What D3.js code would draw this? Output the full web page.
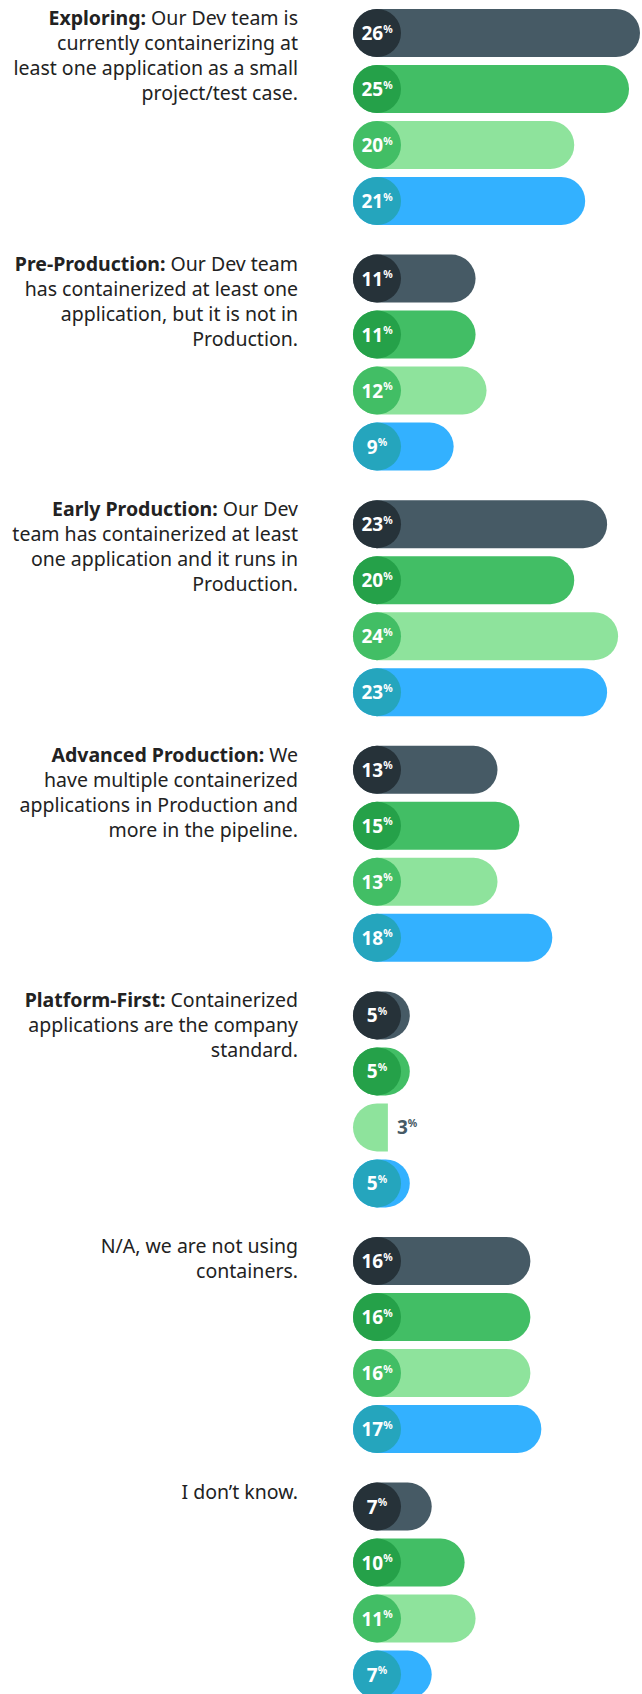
<!DOCTYPE html>
<html>
<head>
<meta charset="utf-8">
<script src="https://cdn.jsdelivr.net/npm/d3@7"></script>
<style>
  html, body { margin: 0; padding: 0; background: #fff; }
  svg { display: block; }
</style>
</head>
<body>
<svg id="chart"></svg>
<script>
// Container adoption stages, 4 series per stage (values in %)
const categories = ['Exploring', 'Pre-Production', 'Early Production', 'Advanced Production',
  'Platform-First', 'N/A', 'I don’t know'];

const labelBold = ['Exploring:', 'Pre-Production:', 'Early Production:', 'Advanced Production:',
  'Platform-First:', '', ''];

const labelLines = [
  [' Our Dev team is', 'currently containerizing at', 'least one application as a small', 'project/test case.'],
  [' Our Dev team', 'has containerized at least one', 'application, but it is not in', 'Production.'],
  [' Our Dev', 'team has containerized at least', 'one application and it runs in', 'Production.'],
  [' We', 'have multiple containerized', 'applications in Production and', 'more in the pipeline.'],
  [' Containerized', 'applications are the company', 'standard.'],
  ['N/A, we are not using', 'containers.'],
  ['I don’t know.']
];

const series = ['s1', 's2', 's3', 's4'];
const s1 = [26, 11, 23, 13, 5, 16, 7];
const s2 = [25, 11, 20, 15, 5, 16, 10];
const s3 = [20, 12, 24, 13, 3, 16, 11];
const s4 = [21, 9, 23, 18, 5, 17, 7];

const barColors = ['#465a65', '#42be65', '#8ee39c', '#33b1ff'];
const dotColors = ['#263239', '#25a149', '#42be65', '#25a5bd'];

const W = 642, H = 1694;
const FONT = '"Noto Sans", "Open Sans", sans-serif';
const barLeft = 353, barH = 48, r = barH / 2;
const textRight = 298;

const svg = d3.select('#chart').attr('width', W).attr('height', H)
  .style('font-family', FONT);

const yGroup = d3.scaleBand().domain(categories).range([9, 9 + 7 * 245.6]);
const yBar = d3.scaleBand().domain(series).range([0, 216]).paddingInner(8 / 56).paddingOuter(0);
const x = d3.scaleLinear().domain([0, 26]).range([2, 287]);

const rows = [];
categories.forEach((c, i) => {
  [s1, s2, s3, s4].forEach((arr, j) => {
    rows.push({ cat: c, ser: series[j], si: j, v: arr[i] });
  });
});

// category labels
const labels = svg.append('g').selectAll('text').data(categories).enter()
  .append('text')
  .attr('text-anchor', 'end')
  .attr('font-size', 19.5)
  .attr('fill', '#222');

labels.each(function (c, i) {
  const t = d3.select(this);
  const y0 = yGroup(c) + 16;
  labelLines[i].forEach((line, k) => {
    if (k === 0 && labelBold[i]) {
      t.append('tspan').attr('x', textRight).attr('y', y0)
        .attr('font-weight', 700).text(labelBold[i]);
      t.append('tspan').text(line);
    } else {
      t.append('tspan').attr('x', textRight).attr('y', y0 + k * 25).text(line);
    }
  });
});

// bars
const barG = svg.append('g').selectAll('g').data(rows).enter()
  .append('g')
  .attr('transform', d => `translate(${barLeft},${yGroup(d.cat) + yBar(d.ser)})`);

barG.append('path')
  .attr('fill', d => barColors[d.si])
  .attr('d', d => {
    const w = x(d.v);
    if (w >= barH) {
      return `M${r},0 H${w - r} A${r},${r} 0 0 1 ${w - r},${barH} H${r} A${r},${r} 0 0 1 ${r},0 Z`;
    }
    return `M${w},0 H${r} A${r},${r} 0 0 0 ${r},${barH} H${w} Z`;
  });

const inside = barG.filter(d => x(d.v) >= barH);
const outside = barG.filter(d => x(d.v) < barH);

inside.append('circle')
  .attr('cx', r).attr('cy', r).attr('r', r)
  .attr('fill', d => dotColors[d.si]);

const inLabel = inside.append('text')
  .attr('x', r).attr('y', r + 7)
  .attr('text-anchor', 'middle')
  .attr('fill', '#fff')
  .attr('font-weight', 700);
inLabel.append('tspan').attr('font-size', 19).text(d => d.v);
inLabel.append('tspan').attr('font-size', 10.5).attr('dy', -7.5).text('%');

const outLabel = outside.append('text')
  .attr('x', d => x(d.v) + 9).attr('y', r + 7)
  .attr('fill', '#465a65')
  .attr('font-weight', 700);
outLabel.append('tspan').attr('font-size', 19).text(d => d.v);
outLabel.append('tspan').attr('font-size', 10.5).attr('dy', -7.5).text('%');
</script>
</body>
</html>
